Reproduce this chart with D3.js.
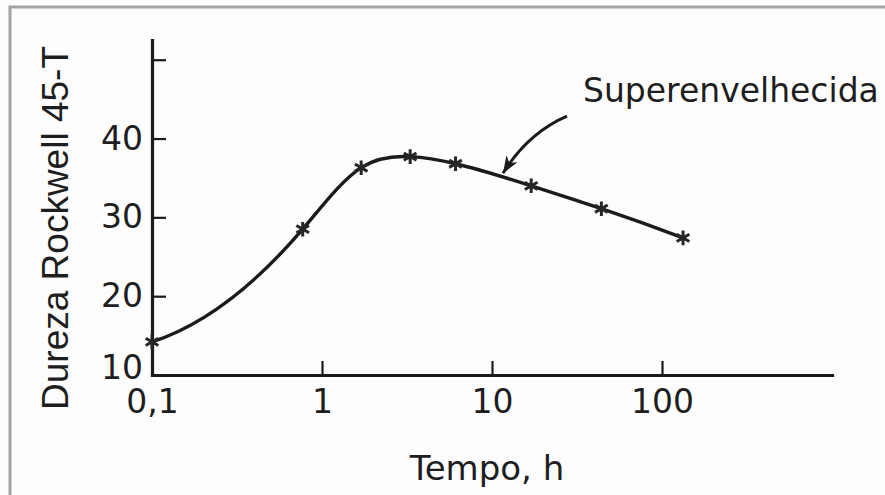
<!DOCTYPE html>
<html>
<head>
<meta charset="utf-8">
<script src="https://cdn.jsdelivr.net/npm/d3@7"></script>
<style>
  body { margin: 0; background: #fdfdfd; }
  svg { display: block; }
  .tick text { font-family: "DejaVu Sans", sans-serif; fill: #1e1e1e; }
</style>
</head>
<body>
<svg id="chart"></svg>
<script>
/*
  Dureza x tempo de envelhecimento
*/

// hours (log axis) and Rockwell 45-T hardness
var tempo = [0.1, 0.77, 1.7, 3.3, 6.1, 17, 44, 133];
var dureza = [14.2, 28.5, 36.3, 37.7, 36.8, 34.0, 31.1, 27.4];

var xTicks = [0.1, 1, 10, 100];
var xTickLabels = ["0,1", "1", "10", "100"];
var yTicks = [10, 20, 30, 40, 50];
var yTickLabels = ["10", "20", "30", "40", ""];

// annotation: text and the point of the curve its arrow hits
var annotText = "Superenvelhecida";
var annotTip = [11.6, 35.6];

var margin = {left: 152, right: 53, top: 40, bottom: 120};
var ink = "#1b1b1b";

//Cubic spline of y over x, parabolic run-out at both ends
function splineX(context){
  var pts;
  return {
    areaStart: function(){}, areaEnd: function(){},
    lineStart: function(){ pts = []; },
    point: function(x, y){ pts.push([+x, +y]); },
    lineEnd: function(){
      var n = pts.length, i;
      if(n < 3){
        pts.forEach(function(p, j){ j ? context.lineTo(p[0], p[1]) : context.moveTo(p[0], p[1]); });
        return;
      }
      var h = [], s = [];
      for(i = 0; i < n - 1; i++){
        h.push(pts[i + 1][0] - pts[i][0]);
        s.push((pts[i + 1][1] - pts[i][1]) / h[i]);
      }
      // tridiagonal solve for second derivatives, M0 = M1 and Mn-1 = Mn-2
      var a = [], b = [], c = [], r = [], M = new Array(n).fill(0);
      for(i = 1; i < n - 1; i++){
        a.push(h[i - 1]); b.push(2 * (h[i - 1] + h[i])); c.push(h[i]);
        r.push(6 * (s[i] - s[i - 1]));
      }
      var m = b.length;
      b[0] += h[0];
      b[m - 1] += h[n - 2];
      for(i = 1; i < m; i++){
        var w = a[i] / b[i - 1];
        b[i] -= w * c[i - 1];
        r[i] -= w * r[i - 1];
      }
      M[m] = r[m - 1] / b[m - 1];
      for(i = m - 2; i >= 0; i--) M[i + 1] = (r[i] - c[i] * M[i + 2]) / b[i];
      M[0] = M[1];
      M[n - 1] = M[n - 2];
      context.moveTo(pts[0][0], pts[0][1]);
      for(i = 0; i < n - 1; i++){
        var d0 = s[i] - h[i] * (2 * M[i] + M[i + 1]) / 6,
            d1 = s[i] + h[i] * (M[i] + 2 * M[i + 1]) / 6,
            k = h[i] / 3;
        context.bezierCurveTo(pts[i][0] + k, pts[i][1] + d0 * k,
                              pts[i + 1][0] - k, pts[i + 1][1] - d1 * k,
                              pts[i + 1][0], pts[i + 1][1]);
      }
    }
  };
}

function drawChart(){
  var totalW = 885, totalH = 495;
  var width = totalW - margin.left - margin.right,
      height = totalH - margin.top - margin.bottom;

  var x = d3.scaleLog().domain([0.1, 1000]).range([0, width]),
      y = d3.scaleLinear().domain([10, 52.5]).range([height, 0]);

  var root = d3.select("#chart")
    .attr("width", totalW)
    .attr("height", totalH);

  //Grey frame of the scanned figure
  root.append("rect")
    .attr("x", 10)
    .attr("y", 7)
    .attr("width", 900)
    .attr("height", 520)
    .style("fill", "none")
    .style("stroke", "#a3a3a3")
    .style("stroke-width", 3);

  var svg = root.append("g")
    .attr("transform", "translate(" + margin.left + "," + margin.top + ")");

  //Add the X Axis
  var xAxis = svg.append("g")
    .attr("transform", "translate(0," + height + ")")
    .call(d3.axisBottom(x)
      .tickValues(xTicks)
      .tickFormat(function(d, i){ return xTickLabels[i]; })
      .tickSizeInner(-14)
      .tickSizeOuter(0)
      .tickPadding(15));

  //Add the Y Axis
  var yAxis = svg.append("g")
    .call(d3.axisLeft(y)
      .tickValues(yTicks)
      .tickFormat(function(d, i){ return yTickLabels[i]; })
      .tickSizeInner(-14)
      .tickSizeOuter(0)
      .tickPadding(9));

  [xAxis, yAxis].forEach(function(a){
    a.select(".domain")
      .style("stroke", ink)
      .style("stroke-width", 3.2)
      .style("stroke-linecap", "square");
    a.selectAll(".tick line")
      .style("stroke", ink)
      .style("stroke-width", 2.2);
    a.selectAll(".tick text")
      .style("font-size", "33px");
  });

  // the bottom label sits a little higher so it clears "0,1"
  yAxis.selectAll(".tick text")
    .filter(function(d){ return d === 10; })
    .attr("dy", "0.12em");

  //Label for X axis
  svg.append("text")
    .attr("x", width / 2 - 5)
    .attr("y", height + 105)
    .style("text-anchor", "middle")
    .style("font-family", "DejaVu Sans")
    .style("font-size", "34px")
    .style("fill", "#1e1e1e")
    .text("Tempo, h");

  //Label for Y axis
  svg.append("text")
    .attr("transform", "rotate(-90)")
    .attr("x", -(228 - margin.top))
    .attr("y", 68 - margin.left)
    .style("text-anchor", "middle")
    .style("font-family", "Liberation Sans")
    .style("font-size", "37px")
    .style("fill", "#1e1e1e")
    .text("Dureza Rockwell 45-T");

  var data = tempo.map(function(t, i){ return {t: t, h: dureza[i]}; });

  var line = d3.line()
    .x(function(d){ return x(d.t); })
    .y(function(d){ return y(d.h); })
    .curve(splineX);

  svg.append("path")
    .datum(data)
    .style("fill", "none")
    .style("stroke", ink)
    .style("stroke-width", 3.4)
    .attr("d", line);

  //Star markers
  svg.selectAll(".star")
    .data(data)
    .enter().append("path")
      .attr("class", "star")
      .attr("transform", function(d){ return "translate(" + x(d.t) + "," + y(d.h) + ")"; })
      .attr("d", d3.symbol().type(d3.symbolAsterisk).size(150))
      .style("fill", "none")
      .style("stroke", "#262626")
      .style("stroke-width", 3);

  //Annotation arrow
  root.append("defs").append("marker")
    .attr("id", "head")
    .attr("viewBox", "-18 -8 20 16")
    .attr("markerUnits", "userSpaceOnUse")
    .attr("markerWidth", 20)
    .attr("markerHeight", 16)
    .attr("refX", 0)
    .attr("refY", 0)
    .attr("orient", "auto")
    .append("path")
      .attr("d", "M0,0L-17,-6.5L-12,0L-17,6.5Z")
      .style("fill", ink);

  var tx = x(annotTip[0]), ty = y(annotTip[1]);
  svg.append("path")
    .attr("d", "M" + (tx + 64) + "," + (ty - 57) + "Q" + (tx + 25) + "," + (ty - 40) + " " + tx + "," + ty)
    .style("fill", "none")
    .style("stroke", ink)
    .style("stroke-width", 3)
    .attr("marker-end", "url(#head)");

  svg.append("text")
    .attr("x", tx + 80)
    .attr("y", ty - 71)
    .style("font-family", "DejaVu Sans")
    .style("font-size", "33px")
    .style("fill", "#1e1e1e")
    .text(annotText);
}

drawChart();
</script>
</body>
</html>
